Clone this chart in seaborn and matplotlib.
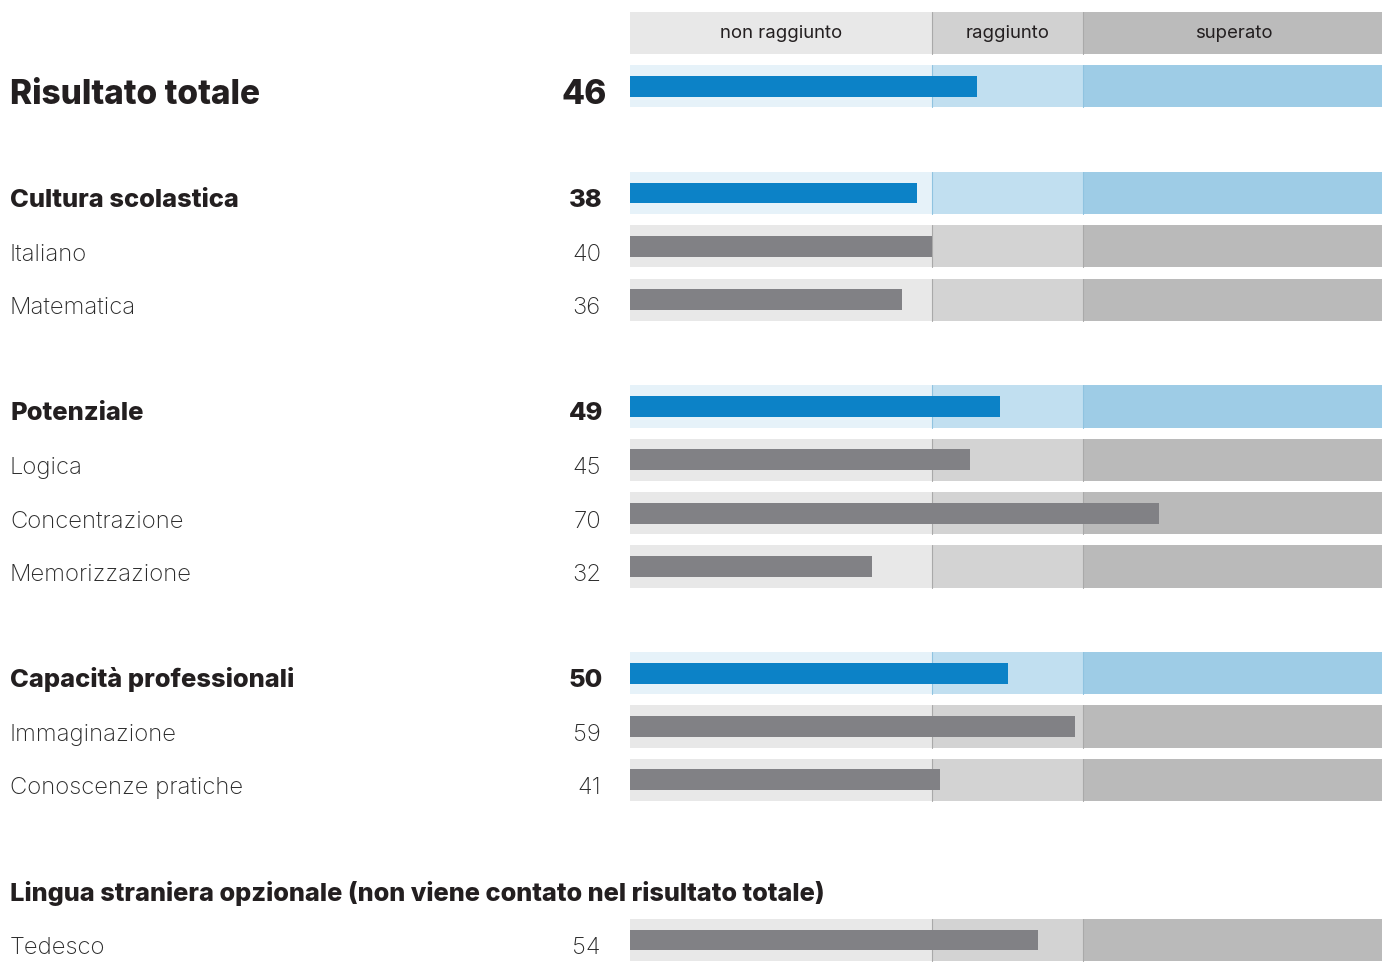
import matplotlib.pyplot as plt
import matplotlib.transforms as mtransforms
import pandas as pd
import seaborn as sns

# data
labels = ["Risultato totale", "Cultura scolastica", "Italiano", "Matematica",
          "Potenziale", "Logica", "Concentrazione", "Memorizzazione",
          "Capacità professionali", "Immaginazione", "Conoscenze pratiche",
          "Tedesco"]
scores = [46, 38, 40, 36, 49, 45, 70, 32, 50, 59, 41, 54]
kinds = ["totale", "gruppo", "voce", "voce", "gruppo", "voce", "voce", "voce",
         "gruppo", "voce", "voce", "voce"]
levels = ["non raggiunto", "raggiunto", "superato"]
level_edges = [0, 40, 60, 100]
extra_title = "Lingua straniera opzionale (non viene contato nel risultato totale)"

# layout (row slots, 1 slot = ~53 px)
rows = [1, 3, 4, 5, 7, 8, 9, 10, 12, 13, 14, 17]
extra_row = 16

sns.set_theme(style="white")
plt.rcParams["font.family"] = ["Inter", "DejaVu Sans"]

W, H = 1382, 967
SLOT = 53.35
fig = plt.figure(figsize=(W / 100, H / 100), dpi=100)
ax = fig.add_axes([630 / W, 0, 752 / W, 1])

band_h = 0.79
blue_bands = ["#e6f2f9", "#c1dff0", "#9ecce6"]
grey_bands = ["#e8e8e8", "#d3d3d3", "#bababa"]
head_bands = ["#e8e8e8", "#d1d1d1", "#bbbbbb"]

# header
for i, lev in enumerate(levels):
    l, r = level_edges[i], level_edges[i + 1]
    ax.barh(0, r - l, left=l, height=band_h, color=head_bands[i], linewidth=0)
    ax.text((l + r) / 2, 0, lev, ha="center", va="center", fontsize=13.4,
            color="#231f20")
for e in level_edges[1:3]:
    ax.plot([e, e], [-band_h / 2, band_h / 2], color="#a9a9a9", lw=0.8)

# background bands per row
for y, k in zip(rows, kinds):
    cols = grey_bands if k == "voce" else blue_bands
    sep = "#a9a9a9" if k == "voce" else "#8fc3e0"
    for i in range(3):
        l, r = level_edges[i], level_edges[i + 1]
        ax.barh(y, r - l, left=l, height=band_h, color=cols[i], linewidth=0)
    for e in level_edges[1:3]:
        ax.plot([e, e], [y - band_h / 2, y + band_h / 2], color=sep, lw=0.8)

df = pd.DataFrame({"score": scores, "row": rows, "kind": kinds})
sns.barplot(data=df, x="score", y="row", hue="kind", orient="h",
            native_scale=True, dodge=False, width=0.39, legend=False,
            palette={"totale": "#0c82c7", "gruppo": "#0c82c7", "voce": "#818185"},
            linewidth=0, saturation=1, ax=ax, zorder=3)

ax.set_xlim(0, 99.6)
ax.set_ylim((H - 33) / SLOT, -33 / SLOT)
ax.axis("off")

# labels on the left
tr = mtransforms.blended_transform_factory(fig.transFigure, ax.transData)
# size, weight, baseline offset (px), right edge of number (px)
styles = {"totale": (24.1, "heavy", 18, 607),
          "gruppo": (18.4, "heavy", 14, 603),
          "voce": (17.2, "light", 14.5, 601)}
for lab, val, y, k in zip(labels, scores, rows, kinds):
    size, weight, off, right = styles[k]
    col = "#231f20" if k != "voce" else "#2a2a2a"
    yb = y + off / SLOT
    ax.text(10 / W, yb, lab, transform=tr, ha="left", va="baseline",
            fontsize=size, fontweight=weight, color=col)
    ax.text(right / W, yb, str(val), transform=tr, ha="right", va="baseline",
            fontsize=size, fontweight=weight, color=col)
ax.text(10 / W, extra_row + 14 / SLOT, extra_title, transform=tr, ha="left",
        va="baseline", fontsize=18.3, fontweight="heavy", color="#231f20")

fig.savefig("out.png", dpi=100)
